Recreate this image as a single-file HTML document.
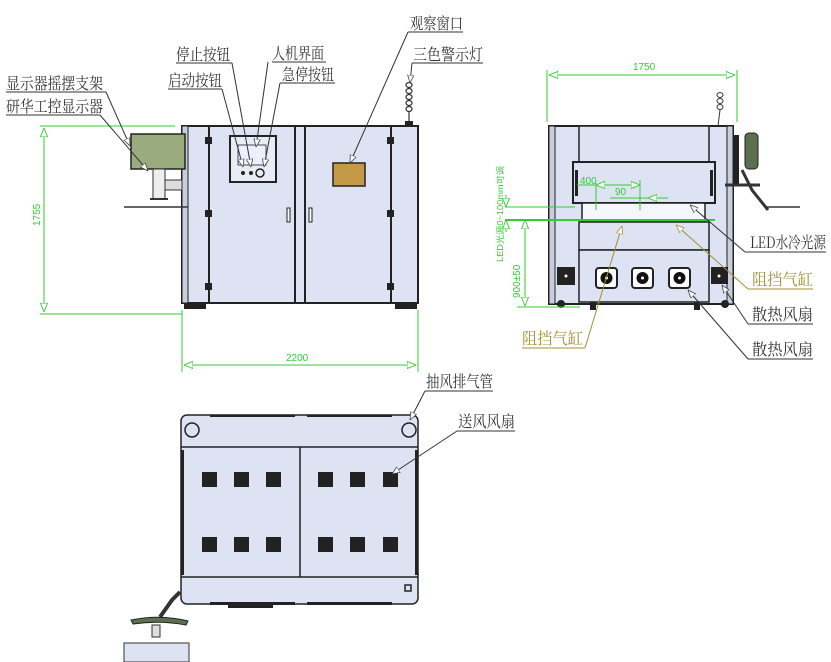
<!DOCTYPE html>
<html><head><meta charset="utf-8"><style>
html,body{margin:0;padding:0;background:#fff;}
svg{display:block}
text{font-family:"Liberation Sans","Noto Sans CJK SC",sans-serif;}
.cn{font-family:"Noto Serif CJK SC","Noto Sans CJK SC",sans-serif;font-size:16px;fill:#333;}
</style></head><body>
<svg width="831" height="662" viewBox="0 0 831 662" xmlns="http://www.w3.org/2000/svg">
<defs>
<marker id="ar" viewBox="0 0 10 10" refX="10" refY="5" markerWidth="8" markerHeight="8" orient="auto-start-reverse"><path d="M0,1 L10,5 L0,9 z" fill="#fff" stroke="#444" stroke-width="1"/></marker>
<marker id="ay" viewBox="0 0 10 10" refX="10" refY="5" markerWidth="8" markerHeight="8" orient="auto-start-reverse"><path d="M0,1 L10,5 L0,9 z" fill="#fff" stroke="#a09030" stroke-width="1"/></marker>
<marker id="ag" viewBox="0 0 10 10" refX="10" refY="5" markerWidth="9" markerHeight="9" orient="auto-start-reverse"><path d="M0,1 L10,5 L0,9 z" fill="#fff" stroke="#3c3" stroke-width="1"/></marker>
</defs>

<!-- ============ FRONT VIEW ============ -->
<g stroke="#222" fill="#dde3f3">
<rect x="182" y="126" width="236" height="177" stroke-width="2"/>
<rect x="182" y="126" width="6" height="177" fill="#c8cede" stroke-width="1"/>
<line x1="209" y1="126" x2="209" y2="303" stroke-width="2"/>
<line x1="391" y1="126" x2="391" y2="303" stroke-width="2"/>
<line x1="295" y1="126" x2="295" y2="303" stroke-width="2"/>
<line x1="305" y1="126" x2="305" y2="303" stroke-width="2"/>
<rect x="230" y="136" width="46" height="46" stroke-width="2" fill="#e8ecf6"/>
<rect x="238" y="145" width="28" height="20" stroke-width="0.8" fill="#eef"/>
<rect x="333" y="163" width="32" height="23" fill="#c49a48" stroke-width="1.5"/>
<rect x="287" y="208" width="3" height="14" fill="#fff" stroke-width="1"/>
<rect x="309" y="208" width="3" height="14" fill="#fff" stroke-width="1"/>
</g>
<g fill="#222">
<rect x="205" y="137" width="7" height="7"/><rect x="205" y="210" width="7" height="7"/><rect x="205" y="283" width="7" height="7"/>
<rect x="387" y="137" width="7" height="7"/><rect x="387" y="210" width="7" height="7"/><rect x="387" y="283" width="7" height="7"/>
<circle cx="243" cy="173" r="2"/><circle cx="251" cy="173" r="2"/>
<rect x="405" y="121" width="8" height="6"/><rect x="184" y="304" width="22" height="5"/><rect x="395" y="304" width="22" height="5"/>
</g>
<circle cx="260" cy="173" r="4" fill="none" stroke="#222" stroke-width="1.5"/>
<g fill="#fff" stroke="#333" stroke-width="1.2">
<ellipse cx="409" cy="85" rx="3" ry="2.5"/><ellipse cx="409" cy="91" rx="3" ry="2.5"/><ellipse cx="409" cy="97" rx="3" ry="2.5"/><ellipse cx="409" cy="103" rx="3" ry="2.5"/><ellipse cx="409" cy="109" rx="3" ry="2.5"/>
<line x1="409" y1="112" x2="409" y2="121"/>
</g>
<rect x="131" y="134" width="54" height="35" fill="#9aab7e" stroke="#222" stroke-width="1.5"/>
<rect x="153" y="169" width="12" height="30" fill="#eee" stroke="#333" stroke-width="1"/>
<rect x="165" y="180" width="17" height="10" fill="#ddd" stroke="#333" stroke-width="1"/>
<line x1="124" y1="207" x2="188" y2="207" stroke="#333" stroke-width="1.5"/>
<line x1="150" y1="199" x2="168" y2="199" stroke="#333" stroke-width="2"/>

<g stroke="#3c3" stroke-width="1" fill="none">
<line x1="40" y1="126" x2="175" y2="126"/><line x1="40" y1="314" x2="182" y2="314"/>
<line x1="44" y1="128" x2="44" y2="312" marker-start="url(#ag)" marker-end="url(#ag)"/>
<line x1="182" y1="310" x2="182" y2="372"/><line x1="418" y1="310" x2="418" y2="372"/>
<line x1="184" y1="365" x2="416" y2="365" marker-start="url(#ag)" marker-end="url(#ag)"/>
</g>
<text x="0" y="0" transform="translate(40,226) rotate(-90)" font-size="10" fill="#3c3">1755</text>
<text x="286" y="361" font-size="10" fill="#3c3">2200</text>

<g stroke="#333" stroke-width="1" fill="none">
<line x1="6" y1="92" x2="106" y2="92"/><line x1="106" y1="92" x2="130" y2="146" marker-end="url(#ar)"/>
<line x1="6" y1="115" x2="100" y2="115"/><line x1="100" y1="115" x2="148" y2="171" marker-end="url(#ar)"/>
<line x1="168" y1="89" x2="222" y2="89"/><line x1="222" y1="89" x2="243" y2="167" marker-end="url(#ar)"/>
<line x1="176" y1="63" x2="232" y2="63"/><line x1="232" y1="63" x2="251" y2="167" marker-end="url(#ar)"/>
<line x1="272" y1="62" x2="326" y2="62"/><line x1="268" y1="62" x2="256" y2="147" marker-end="url(#ar)"/>
<line x1="280" y1="83" x2="335" y2="83"/><line x1="280" y1="83" x2="264" y2="167" marker-end="url(#ar)"/>
<line x1="408" y1="32" x2="463" y2="32"/><line x1="408" y1="32" x2="350" y2="163" marker-end="url(#ar)"/>
<line x1="412" y1="63" x2="483" y2="63"/><line x1="412" y1="63" x2="410" y2="83" marker-end="url(#ar)"/>
</g>
<text class="cn" x="6" y="89" textLength="97" lengthAdjust="spacingAndGlyphs">显示器摇摆支架</text>
<text class="cn" x="6" y="112" textLength="97" lengthAdjust="spacingAndGlyphs">研华工控显示器</text>
<text class="cn" x="176" y="60" textLength="54" lengthAdjust="spacingAndGlyphs">停止按钮</text>
<text class="cn" x="168" y="86" textLength="54" lengthAdjust="spacingAndGlyphs">启动按钮</text>
<text class="cn" x="272" y="59" textLength="52" lengthAdjust="spacingAndGlyphs">人机界面</text>
<text class="cn" x="282" y="80" textLength="52" lengthAdjust="spacingAndGlyphs">急停按钮</text>
<text class="cn" x="410" y="29" textLength="53" lengthAdjust="spacingAndGlyphs">观察窗口</text>
<text class="cn" x="413" y="60" textLength="70" lengthAdjust="spacingAndGlyphs">三色警示灯</text>

<!-- ============ SIDE VIEW ============ -->
<g stroke="#222" fill="#dde3f3">
<rect x="549" y="126" width="184" height="178" stroke-width="2"/>
<rect x="549" y="126" width="6" height="178" fill="#c8cede" stroke-width="1"/>
<rect x="727" y="126" width="6" height="178" fill="#c8cede" stroke-width="1"/>
<rect x="579" y="126" width="130" height="37" stroke-width="1.5"/>
<rect x="573" y="162" width="142" height="41" stroke-width="2"/>
<rect x="582" y="203" width="123" height="19" fill="#f4f6fb" stroke-width="1.5"/>
<rect x="579" y="222" width="130" height="28" stroke-width="1.5"/>
<rect x="579" y="250" width="130" height="52" stroke-width="1.5"/>
</g>
<g fill="#222">
<rect x="575" y="170" width="3" height="26"/><rect x="710" y="170" width="3" height="26"/>
<rect x="557" y="267" width="18" height="18"/><rect x="711" y="267" width="17" height="17"/>
<circle cx="561" cy="304" r="4"/><circle cx="725" cy="304" r="4"/>
<rect x="590" y="302" width="6" height="8"/><rect x="694" y="302" width="6" height="8"/>
<rect x="733" y="135" width="6" height="50"/>
</g>
<g fill="#fff" stroke="#222" stroke-width="2">
<rect x="596" y="268" width="21" height="20" rx="3"/><rect x="632" y="268" width="21" height="20" rx="3"/><rect x="669" y="268" width="21" height="20" rx="3"/>
</g>
<g fill="#111"><circle cx="606.5" cy="278" r="6"/><circle cx="642.5" cy="278" r="6"/><circle cx="679.5" cy="278" r="6"/></g>
<g fill="#fff"><circle cx="606.5" cy="278" r="1.5"/><circle cx="642.5" cy="278" r="1.5"/><circle cx="679.5" cy="278" r="1.5"/><circle cx="566" cy="276" r="1.5"/><circle cx="719" cy="276" r="1.5"/></g>
<rect x="745" y="133" width="13" height="36" rx="4" fill="#5c7050" stroke="#222"/>
<path d="M742 170 L752 190 L768 210 M725 185 L760 185" stroke="#333" stroke-width="3" fill="none"/>
<line x1="766" y1="207" x2="800" y2="207" stroke="#333" stroke-width="1.5"/>
<g fill="#fff" stroke="#333" stroke-width="1"><ellipse cx="720" cy="95" rx="3" ry="2.5"/><ellipse cx="720" cy="101" rx="3" ry="2.5"/><ellipse cx="720" cy="107" rx="3" ry="2.5"/><line x1="720" y1="110" x2="718" y2="126"/></g>

<g stroke="#3c3" stroke-width="1" fill="none">
<line x1="547" y1="70" x2="547" y2="122"/><line x1="737" y1="70" x2="737" y2="122"/>
<line x1="549" y1="75" x2="735" y2="75" marker-start="url(#ag)" marker-end="url(#ag)"/>
<line x1="505" y1="207" x2="575" y2="207"/>
<line x1="505" y1="220" x2="715" y2="220" stroke-width="2"/>
<line x1="506" y1="195" x2="506" y2="207" marker-end="url(#ag)"/>
<line x1="506" y1="232" x2="506" y2="220" marker-end="url(#ag)"/>
<line x1="525" y1="220" x2="525" y2="306" marker-start="url(#ag)" marker-end="url(#ag)"/>
<line x1="517" y1="307" x2="580" y2="307"/>
<line x1="577" y1="185" x2="595" y2="185"/><line x1="596" y1="183" x2="596" y2="210"/>
<line x1="596" y1="185" x2="640" y2="185" marker-start="url(#ag)" marker-end="url(#ag)"/>
<line x1="640" y1="180" x2="640" y2="210"/>
<line x1="610" y1="198" x2="668" y2="198"/>
<line x1="648" y1="198" x2="665" y2="198" marker-start="url(#ag)"/>
</g>
<text x="633" y="70" font-size="10" fill="#3c3">1750</text>
<text x="580" y="184" font-size="10" fill="#3c3">400</text>
<text x="615" y="195" font-size="10" fill="#3c3">90</text>
<text transform="translate(503,262) rotate(-90)" font-size="8" fill="#3c3" textLength="96" lengthAdjust="spacingAndGlyphs">LED光源0~100mm可调</text>
<text transform="translate(520,298) rotate(-90)" font-size="10" fill="#3c3">900±50</text>

<g stroke="#333" stroke-width="1" fill="none">
<line x1="745" y1="252" x2="826" y2="252"/><line x1="745" y1="252" x2="690" y2="205" marker-end="url(#ar)"/>
<line x1="748" y1="324" x2="813" y2="324"/><line x1="748" y1="324" x2="722" y2="285" marker-end="url(#ar)"/>
<line x1="748" y1="359" x2="813" y2="359"/><line x1="748" y1="359" x2="688" y2="290" marker-end="url(#ar)"/>
</g>
<g stroke="#a09030" stroke-width="1" fill="none">
<line x1="748" y1="289" x2="813" y2="289"/><line x1="748" y1="289" x2="676" y2="225" marker-end="url(#ay)"/>
<line x1="522" y1="348" x2="585" y2="348"/><line x1="585" y1="348" x2="622" y2="226" marker-end="url(#ay)"/>
</g>
<text class="cn" x="750" y="248" textLength="76" lengthAdjust="spacingAndGlyphs">LED水冷光源</text>
<text class="cn" x="752" y="285" style="fill:#a09030" textLength="61" lengthAdjust="spacingAndGlyphs">阻挡气缸</text>
<text class="cn" x="752" y="320" textLength="61" lengthAdjust="spacingAndGlyphs">散热风扇</text>
<text class="cn" x="752" y="355" textLength="61" lengthAdjust="spacingAndGlyphs">散热风扇</text>
<text class="cn" x="522" y="344" style="fill:#a09030" textLength="61" lengthAdjust="spacingAndGlyphs">阻挡气缸</text>

<!-- ============ TOP VIEW ============ -->
<g stroke="#222" fill="#dde3f3">
<rect x="181" y="415" width="237" height="189" rx="6" stroke-width="1.5"/>
<line x1="181" y1="447" x2="418" y2="447" stroke-width="1.5"/>
<line x1="181" y1="577" x2="418" y2="577" stroke-width="1.5"/>
<line x1="300" y1="447" x2="300" y2="577" stroke-width="1.5"/>
<circle cx="192" cy="430" r="7" fill="none" stroke-width="1.5"/>
<circle cx="409" cy="430" r="7" fill="none" stroke-width="1.5"/>
<rect x="405" y="585" width="6" height="6" fill="none" stroke-width="1.5"/>
</g>
<g fill="#222">
<rect x="210" y="415" width="85" height="2"/><rect x="307" y="415" width="85" height="2"/>
<rect x="210" y="602" width="85" height="3"/><rect x="307" y="602" width="85" height="3"/><rect x="228" y="605" width="45" height="3"/>
<rect x="181" y="450" width="3" height="125"/><rect x="415" y="450" width="3" height="125"/>
<rect x="202" y="472" width="15" height="15"/><rect x="234" y="472" width="15" height="15"/><rect x="266" y="472" width="15" height="15"/>
<rect x="318" y="472" width="15" height="15"/><rect x="350" y="472" width="15" height="15"/><rect x="383" y="472" width="15" height="15"/>
<rect x="202" y="537" width="15" height="15"/><rect x="234" y="537" width="15" height="15"/><rect x="266" y="537" width="15" height="15"/>
<rect x="318" y="537" width="15" height="15"/><rect x="350" y="537" width="15" height="15"/><rect x="383" y="537" width="15" height="15"/>
</g>
<path d="M180 592 L172 600 L160 617" stroke="#333" stroke-width="4" fill="none"/>
<path d="M131 620 Q160 614 188 621 L186 625 Q160 620 133 624 z" fill="#5c7050" stroke="#222"/>
<rect x="152" y="625" width="8" height="12" fill="#ddd" stroke="#333"/>
<rect x="124" y="643" width="65" height="19" fill="#dde3f3" stroke="#333"/>

<g stroke="#333" stroke-width="1" fill="none">
<line x1="425" y1="391" x2="493" y2="391"/><line x1="425" y1="391" x2="410" y2="420" marker-end="url(#ar)"/>
<line x1="457" y1="431" x2="515" y2="431"/><line x1="457" y1="431" x2="392" y2="474" marker-end="url(#ar)"/>
</g>
<text class="cn" x="426" y="387" textLength="67" lengthAdjust="spacingAndGlyphs">抽风排气管</text>
<text class="cn" x="458" y="427" textLength="57" lengthAdjust="spacingAndGlyphs">送风风扇</text>
</svg>
</body></html>
